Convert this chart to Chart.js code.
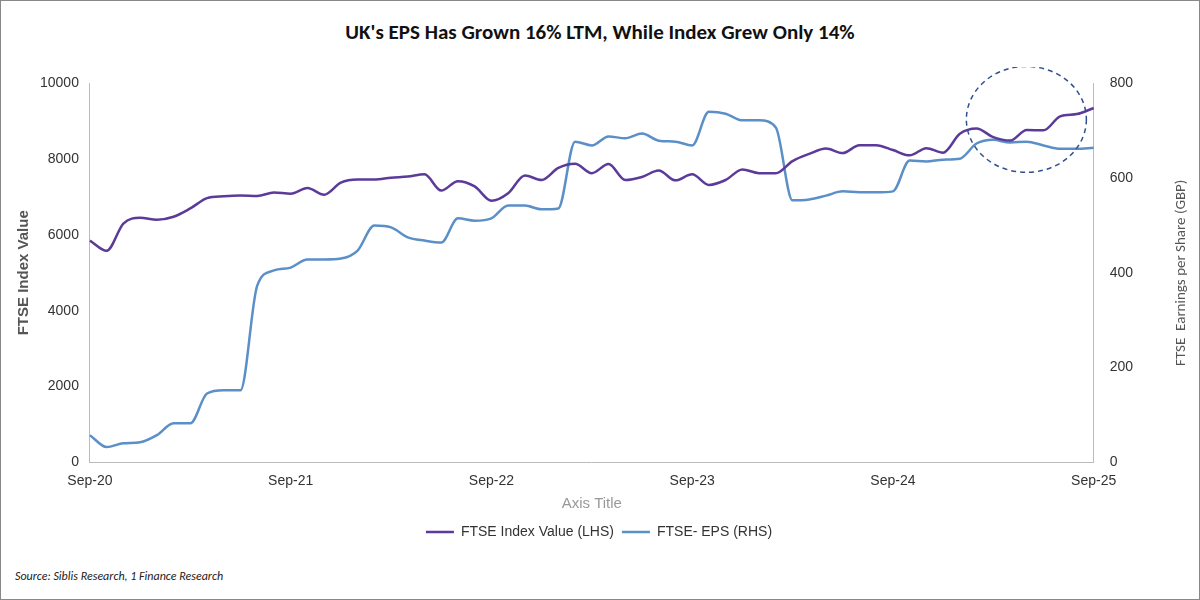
<!DOCTYPE html>
<html>
<head>
<meta charset="utf-8">
<script src="https://cdn.jsdelivr.net/npm/chart.js@4.4.0/dist/chart.umd.min.js"></script>
<style>
  html, body { margin: 0; padding: 0; background: #fff; }
  #wrap { position: relative; width: 1198px; height: 598px; border: 1px solid #888; font-family: Calibri, Carlito, "Open Sans", sans-serif; }
  #title { position: absolute; top: 18px; left: 0; width: 100%; text-align: center; font-size: 21px; font-weight: bold; color: #111; }
  #chartBox { position: absolute; left: 0; top: 66px; width: 1198px; height: 482px; }
  #source { position: absolute; left: 14px; top: 568px; font-size: 12px; font-style: italic; color: #222; }
</style>
</head>
<body>
<div id="wrap">
  <div id="title">UK's EPS Has Grown 16% LTM, While Index Grew Only 14%</div>
  <div id="chartBox"><canvas id="c"></canvas></div>
  <div id="source">Source: Siblis Research, 1 Finance Research</div>
</div>
<script>
// monthly, Sep-20 .. Sep-25
const months = ['Jan','Feb','Mar','Apr','May','Jun','Jul','Aug','Sep','Oct','Nov','Dec'];
const labels = [];
for (let y = 20, m = 8; labels.length < 61; ) {
  labels.push(months[m] + '-' + y);
  m++; if (m === 12) { m = 0; y++; }
}

const ftseIndex = [5850,5580,6300,6450,6400,6480,6700,6970,7020,7040,7030,7120,
  7090,7240,7060,7380,7460,7460,7510,7540,7600,7170,7420,7280,
  6900,7100,7570,7450,7770,7880,7630,7870,7450,7530,7700,7440,
  7600,7320,7450,7730,7630,7630,7950,8140,8280,8160,8370,8370,
  8240,8100,8290,8170,8670,8810,8580,8490,8770,8760,9130,9190,9350];

const ftseEps = [57,32,40,42,57,82,82,145,152,152,373,405,
  411,428,428,430,447,500,496,475,468,464,515,510,
  515,542,542,534,536,677,669,688,684,694,679,677,
  669,740,736,722,722,707,553,555,563,572,570,570,
  572,637,635,639,641,673,681,675,677,669,662,662,664];

const extras = {
  id: 'extras',
  afterDatasetsDraw(chart) {
    const x = chart.scales.x, y = chart.scales.y, y1 = chart.scales.y1;
    const ctx = chart.ctx;
    // dashed ellipse round the last months
    const cx = (x.getPixelForValue(51) + x.getPixelForValue(60)) / 2 + 8;
    const cy = y.getPixelForValue(9050);
    ctx.save();
    ctx.setLineDash([5, 4]);
    ctx.strokeStyle = '#2f4f8f';
    ctx.lineWidth = 1.5;
    ctx.beginPath();
    ctx.ellipse(cx, cy, 60, 53, 0, 0, Math.PI * 2);
    ctx.stroke();
    ctx.restore();
    // right axis title, read bottom to top
    ctx.save();
    ctx.translate(y1.right - 6, (y1.top + y1.bottom) / 2);
    ctx.rotate(-Math.PI / 2);
    ctx.fillStyle = '#555';
    ctx.font = '15px Calibri, Carlito, "Open Sans", sans-serif';
    ctx.textAlign = 'center';
    ctx.textBaseline = 'middle';
    ctx.fillText('FTSE  Earnings per Share (GBP)', 0, 0);
    ctx.restore();
  }
};

new Chart(document.getElementById('c'), {
  type: 'line',
  data: {
    labels: labels,
    datasets: [
      { label: 'FTSE Index Value (LHS)', data: ftseIndex, yAxisID: 'y', borderColor: '#5b3a9a', borderWidth: 2.5, pointRadius: 0, tension: 0.4, cubicInterpolationMode: 'monotone' },
      { label: 'FTSE- EPS (RHS)', data: ftseEps, yAxisID: 'y1', borderColor: '#5b8fc8', borderWidth: 2.5, pointRadius: 0, tension: 0.4, cubicInterpolationMode: 'monotone' }
    ]
  },
  options: {
    responsive: true, maintainAspectRatio: false, animation: false,
    layout: { padding: { left: 10, right: 12 } },
    plugins: {
      legend: { position: 'bottom', labels: { boxWidth: 28, boxHeight: 0, color: '#333', font: { size: 14 }, padding: 8 } },
      tooltip: { enabled: false }
    },
    scales: {
      x: {
        offset: false,
        grid: { display: false },
        border: { color: '#bbb' },
        ticks: { autoSkip: false, maxRotation: 0, color: '#333', font: { size: 14 },
          callback: function (v, i) { return labels[i].startsWith('Sep') ? labels[i] : null; } },
        title: { display: true, text: 'Axis Title', color: '#999', font: { size: 15 }, padding: { top: 2 } }
      },
      y: {
        position: 'left', min: 0, max: 10000,
        ticks: { stepSize: 2000, color: '#333', font: { size: 14 }, callback: v => String(v) },
        grid: { display: false },
        border: { color: '#bbb' },
        title: { display: true, text: 'FTSE Index Value', color: '#555', font: { size: 15, weight: 'bold' } }
      },
      y1: {
        position: 'right', min: 0, max: 800,
        ticks: { stepSize: 200, color: '#333', font: { size: 14 }, padding: 8 },
        grid: { display: false },
        border: { color: '#bbb' },
        title: { display: true, text: ' ', color: '#555', font: { size: 15 }, padding: 14 }
      }
    }
  },
  plugins: [extras]
});
</script>
</body>
</html>
